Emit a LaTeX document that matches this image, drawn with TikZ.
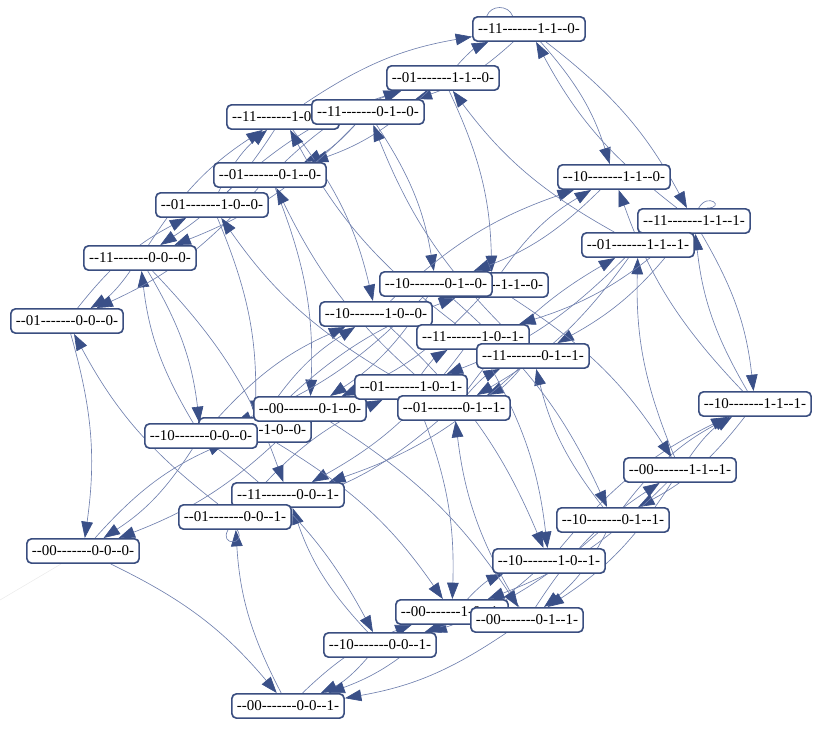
\documentclass[tikz,border=0pt]{standalone}
\usepackage{fontspec}
\newfontfamily\statefont{Liberation Serif}
\usetikzlibrary{arrows.meta,backgrounds}

\definecolor{boxblue}{RGB}{58,78,128}
\definecolor{edgeblue}{RGB}{112,128,174}
\definecolor{tipblue}{RGB}{58,80,136}
\newcommand\statelabel[5]{--#1#2-------#3-#4--#5-}

\tikzset{
  state/.style={draw=boxblue, line width=1.4pt, fill=white, rounded corners=4pt,
    minimum width=3.37cm, minimum height=0.73cm, inner sep=1pt,
    font=\statefont\fontsize{12.8}{14}\selectfont},
  edge/.style={draw=edgeblue, line width=0.55pt,
    -{Triangle[length=4.9mm,width=3.5mm,color=tipblue]}},
  selfloop/.style={draw=edgeblue, line width=0.55pt},
}

\begin{document}
\begin{tikzpicture}[x=0.3mm, y=-0.3mm]
  \useasboundingbox (0,0) rectangle (823,735);
  % states, drawn in this order so that the overlaps come out right
  \foreach \n/\x/\y in {11110/529/29, 01110/443/78, 11100/283/117, 11010/368/112,
      01010/270/175, 10110/614/177, 01100/212/205, 11111/694/221, 01111/638/245,
      11000/140/258, 00110/492/285, 10010/436/284, 01000/67/321, 10100/376/314,
      11101/473/337, 11011/533/356, 00100/255/430, 00010/310/409, 01101/411/387,
      01011/454/408, 10111/755/404, 10000/201/436, 00111/680/470, 11001/288/495,
      10011/613/520, 01001/235/517, 00000/83/551, 10101/549/561, 00101/452/612,
      00011/527/620, 10001/380/645, 00001/288/706} {
    \node[state] (s\n) at (\x,\y) {\expandafter\statelabel\n};
  }
  \coordinate (stray) at (0,600);

  \begin{pgfonlayer}{background}
    % transitions
    \foreach \a/\b in {01110/11110, 00110/10110, 11010/01010, 10010/00010,
        01100/11100, 00100/10100, 11000/01000, 10000/00000,
        01111/11111, 00111/10111, 01011/11011, 11011/01011, 10011/00011,
        01101/11101, 00101/10101, 11001/01001, 10001/00001,
        11110/10110, 01110/00110, 11010/10010, 01010/00010, 11100/10100,
        01100/00100, 11000/10000, 10000/11000, 01000/00000, 11111/10111,
        10111/11111, 00111/01111, 10011/11011, 00011/01011, 11101/10101,
        01101/00101, 10001/11001, 00001/01001,
        11110/11010, 01010/01110, 01110/01010, 10110/10010, 00110/00010,
        11100/11000, 11000/11100, 01000/01100, 10000/10100, 00000/00100,
        11111/11011, 01011/01111, 01111/01011, 10111/10011, 10011/10111,
        00111/00011, 00011/00111, 11101/11001, 01001/01101, 10101/10001,
        00101/00001, 00001/00101,
        11100/11110, 01100/01110, 10100/10110, 00100/00110, 11010/11000,
        01010/01000, 10010/10000, 00010/00000, 11111/11101, 01111/01101,
        10101/10111, 00111/00101, 11011/11001, 01011/01001, 10011/10001,
        00011/00001,
        11111/11110, 11110/11111, 01111/01110, 11101/11100, 11011/11010,
        01011/01010, 10111/10110, 01101/01100, 11000/11001, 10010/10011,
        00110/00111, 01001/01000, 10100/10101, 00010/00011, 00100/00101,
        10000/10001, 00000/00001} {
      \draw[edge] (s\a) to[bend left=12] (s\b);
    }
    % small loops
    \draw[selfloop] ([xshift=-36]s11110.north)
      to[out=70, in=110, looseness=1.2] ([xshift=-14]s11110.north);
    \draw[selfloop] ([xshift=4]s11111.north)
      to[out=60, in=0, looseness=6] ([xshift=11]s11111.north);
    \draw[selfloop] ([xshift=-6]s01001.south)
      to[out=-120, in=-60, looseness=5] ([xshift=2]s01001.south);
    \draw[gray!15, line width=0.5pt] (s00000) -- (stray);
  \end{pgfonlayer}
\end{tikzpicture}
\end{document}
